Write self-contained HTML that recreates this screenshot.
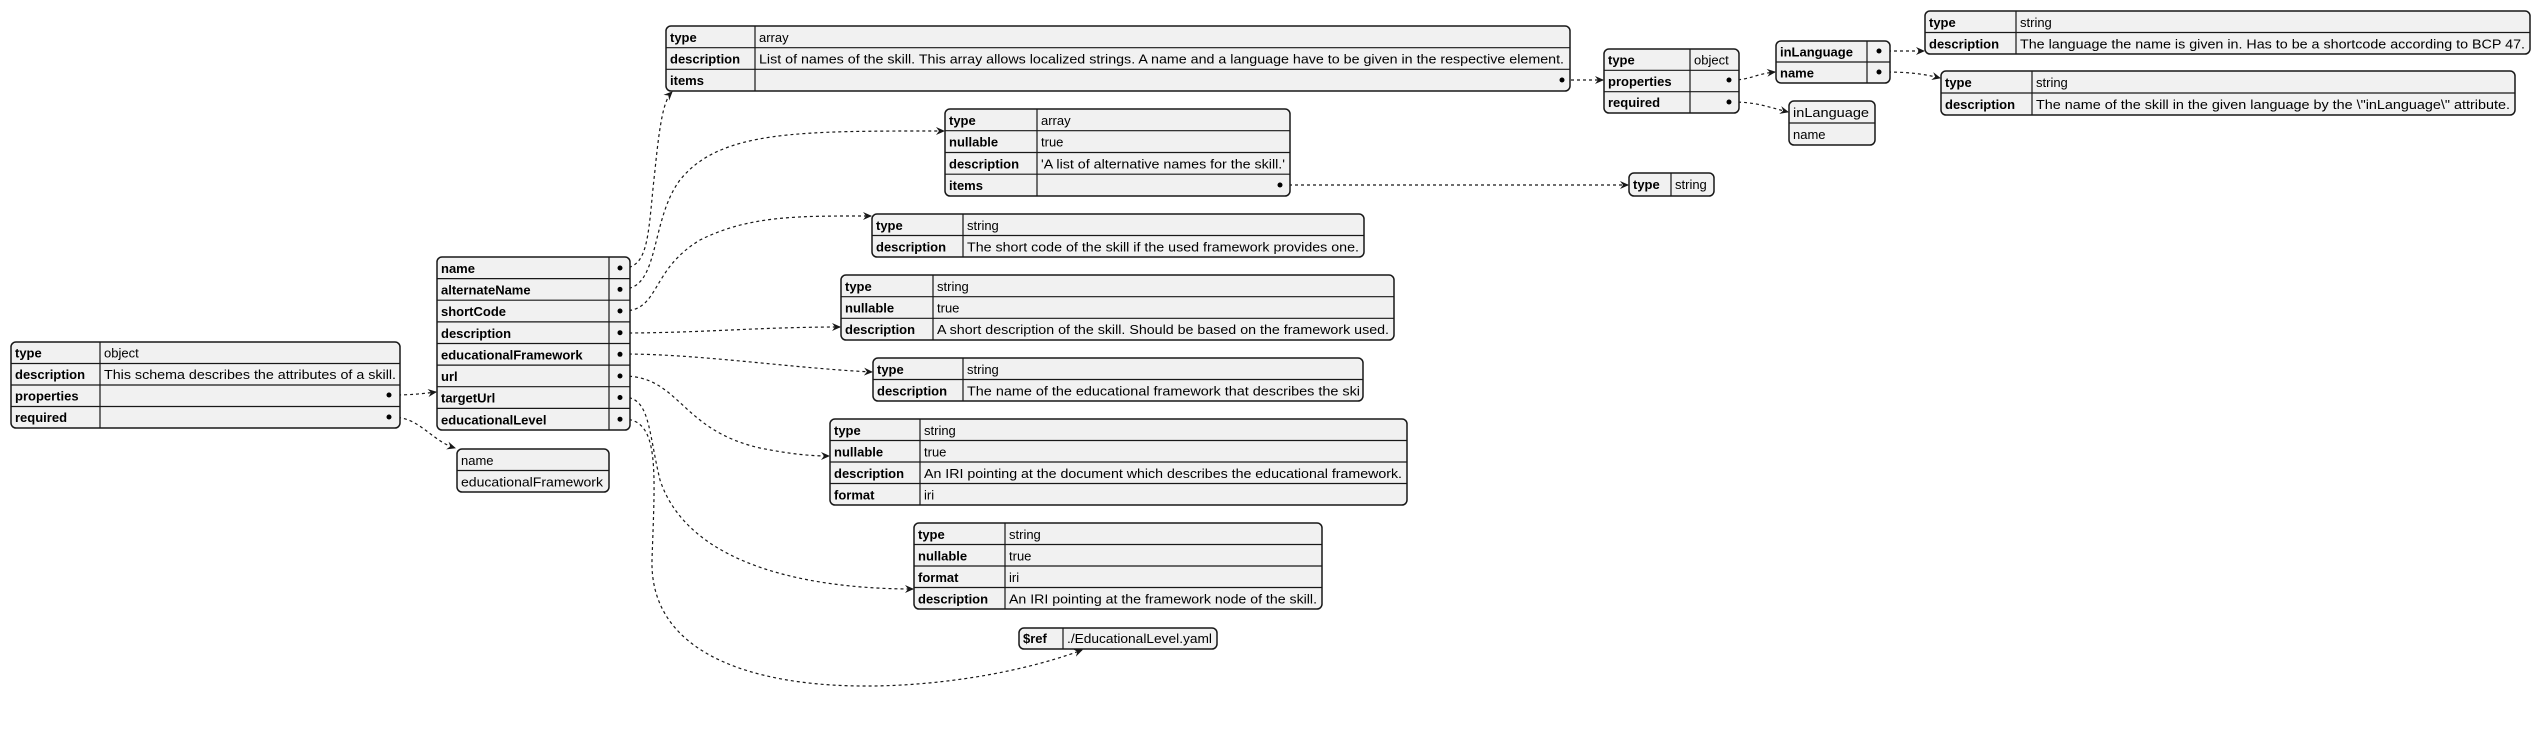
<!DOCTYPE html>
<html><head><meta charset="utf-8"><style>
html,body{margin:0;padding:0;background:#fff;}
svg{display:block;}
text{font-family:"Liberation Sans",sans-serif;font-size:13px;fill:#000;}
.k{font-weight:bold;}
.t rect{fill:#f1f1f1;stroke:#181818;stroke-width:1.5;}
.t line{stroke:#181818;stroke-width:1.2;}
.c{fill:none;stroke:#181818;stroke-width:1.2;stroke-dasharray:3,3;}
</style></head><body>
<svg width="2541" height="731" viewBox="0 0 2541 731" xmlns="http://www.w3.org/2000/svg">
<defs>
<marker id="a" markerWidth="10" markerHeight="10" refX="8" refY="5" orient="auto" markerUnits="userSpaceOnUse">
<path d="M0,1 L9,5 L0,9 L3,5 Z" fill="#181818"/></marker>
</defs>

<g>
<path class="c" marker-end="url(#a)" d="M392,395 C410,395 420,394 436,392"/>
<path class="c" marker-end="url(#a)" d="M392,417 C420,417 430,440 455,448"/>
<path class="c" marker-end="url(#a)" d="M623,268 C650,268 648,230 655,170 C660,120 664,100 672,92"/>
<path class="c" marker-end="url(#a)" d="M623,289 C660,289 650,220 680,180 C720,130 800,131 944,131"/>
<path class="c" marker-end="url(#a)" d="M623,311 C660,311 650,270 700,240 C750,215 800,216 871,216"/>
<path class="c" marker-end="url(#a)" d="M623,333 C700,333 760,327 840,327"/>
<path class="c" marker-end="url(#a)" d="M623,354 C700,354 790,368 872,372"/>
<path class="c" marker-end="url(#a)" d="M623,376 C680,376 680,430 760,448 C790,454 810,456 829,456"/>
<path class="c" marker-end="url(#a)" d="M623,397 C650,397 648,430 660,480 C690,570 820,589 913,589"/>
<path class="c" marker-end="url(#a)" d="M623,419 C660,419 655,470 652,560 C648,720 950,700 1082,650"/>
<path class="c" marker-end="url(#a)" d="M1565,80 L1603,80"/>
<path class="c" marker-end="url(#a)" d="M1732,80 C1750,80 1755,74 1775,72"/>
<path class="c" marker-end="url(#a)" d="M1732,102 C1755,102 1765,106 1788,112"/>
<path class="c" marker-end="url(#a)" d="M1882,51 L1924,51"/>
<path class="c" marker-end="url(#a)" d="M1882,72 C1905,72 1920,73 1940,78"/>
<path class="c" marker-end="url(#a)" d="M1283,185 L1628,185"/>
</g>

<g class="t">
<rect x="11" y="342" width="389" height="86" rx="5"/>
<line x1="11" y1="363.5" x2="400" y2="363.5"/><line x1="11" y1="385" x2="400" y2="385"/><line x1="11" y1="406.5" x2="400" y2="406.5"/>
<line x1="100" y1="342" x2="100" y2="428"/>
<text class="k" x="15" y="357.5">type</text><text x="104" y="357.5">object</text>
<text class="k" x="15" y="379">description</text><text x="104" y="379" textLength="292" lengthAdjust="spacingAndGlyphs">This schema describes the attributes of a skill.</text>
<text class="k" x="15" y="400.5">properties</text><circle cx="389" cy="395" r="2.5"/>
<text class="k" x="15" y="422">required</text><circle cx="389" cy="417" r="2.5"/>
</g>

<g class="t">
<rect x="437" y="257" width="193" height="173" rx="5"/>
<line x1="437" y1="278.6" x2="630" y2="278.6"/><line x1="437" y1="300.2" x2="630" y2="300.2"/><line x1="437" y1="321.9" x2="630" y2="321.9"/><line x1="437" y1="343.5" x2="630" y2="343.5"/><line x1="437" y1="365.1" x2="630" y2="365.1"/><line x1="437" y1="386.7" x2="630" y2="386.7"/><line x1="437" y1="408.4" x2="630" y2="408.4"/>
<line x1="609" y1="257" x2="609" y2="430"/>
<text class="k" x="441" y="273">name</text>
<text class="k" x="441" y="294.6">alternateName</text>
<text class="k" x="441" y="316.2">shortCode</text>
<text class="k" x="441" y="337.9">description</text>
<text class="k" x="441" y="359.5">educationalFramework</text>
<text class="k" x="441" y="381.1">url</text>
<text class="k" x="441" y="402.7">targetUrl</text>
<text class="k" x="441" y="424.4">educationalLevel</text>
<circle cx="620" cy="268" r="2.5"/><circle cx="620" cy="289.4" r="2.5"/><circle cx="620" cy="311" r="2.5"/><circle cx="620" cy="332.7" r="2.5"/><circle cx="620" cy="354.3" r="2.5"/><circle cx="620" cy="376" r="2.5"/><circle cx="620" cy="397.5" r="2.5"/><circle cx="620" cy="419.2" r="2.5"/>
</g>

<g class="t">
<rect x="457" y="449" width="152" height="43" rx="5"/>
<line x1="457" y1="470.5" x2="609" y2="470.5"/>
<text x="461" y="465">name</text>
<text x="461" y="486.5" textLength="142" lengthAdjust="spacingAndGlyphs">educationalFramework</text>
</g>

<g class="t">
<rect x="666" y="26" width="904" height="65" rx="5"/>
<line x1="666" y1="47.7" x2="1570" y2="47.7"/><line x1="666" y1="69.3" x2="1570" y2="69.3"/>
<line x1="755" y1="26" x2="755" y2="91"/>
<text class="k" x="670" y="42">type</text><text x="759" y="42">array</text>
<text class="k" x="670" y="63.5">description</text><text x="759" y="63.5" textLength="805" lengthAdjust="spacingAndGlyphs">List of names of the skill. This array allows localized strings. A name and a language have to be given in the respective element.</text>
<text class="k" x="670" y="85">items</text><circle cx="1562" cy="80" r="2.5"/>
</g>

<g class="t">
<rect x="1604" y="49" width="135" height="64" rx="5"/>
<line x1="1604" y1="70.3" x2="1739" y2="70.3"/><line x1="1604" y1="91.7" x2="1739" y2="91.7"/>
<line x1="1690" y1="49" x2="1690" y2="113"/>
<text class="k" x="1608" y="64.5">type</text><text x="1694" y="64.5">object</text>
<text class="k" x="1608" y="86">properties</text><circle cx="1729" cy="80" r="2.5"/>
<text class="k" x="1608" y="107">required</text><circle cx="1729" cy="102" r="2.5"/>
</g>

<g class="t">
<rect x="1776" y="41" width="114" height="42" rx="5"/>
<line x1="1776" y1="62" x2="1890" y2="62"/>
<line x1="1867" y1="41" x2="1867" y2="83"/>
<text class="k" x="1780" y="56.5">inLanguage</text><circle cx="1879" cy="51" r="2.5"/>
<text class="k" x="1780" y="77.5">name</text><circle cx="1879" cy="72" r="2.5"/>
</g>

<g class="t">
<rect x="1789" y="101" width="86" height="44" rx="5"/>
<line x1="1789" y1="123" x2="1875" y2="123"/>
<text x="1793" y="117" textLength="76" lengthAdjust="spacingAndGlyphs">inLanguage</text>
<text x="1793" y="139">name</text>
</g>

<g class="t">
<rect x="1925" y="11" width="605" height="43" rx="5"/>
<line x1="1925" y1="32.5" x2="2530" y2="32.5"/>
<line x1="2016" y1="11" x2="2016" y2="54"/>
<text class="k" x="1929" y="27">type</text><text x="2020" y="27">string</text>
<text class="k" x="1929" y="48.5">description</text><text x="2020" y="48.5" textLength="505" lengthAdjust="spacingAndGlyphs">The language the name is given in. Has to be a shortcode according to BCP 47.</text>
</g>

<g class="t">
<rect x="1941" y="71" width="574" height="44" rx="5"/>
<line x1="1941" y1="93" x2="2515" y2="93"/>
<line x1="2032" y1="71" x2="2032" y2="115"/>
<text class="k" x="1945" y="87">type</text><text x="2036" y="87">string</text>
<text class="k" x="1945" y="109">description</text><text x="2036" y="109" textLength="474" lengthAdjust="spacingAndGlyphs">The name of the skill in the given language by the \"inLanguage\" attribute.</text>
</g>

<g class="t">
<rect x="945" y="109" width="345" height="87" rx="5"/>
<line x1="945" y1="130.7" x2="1290" y2="130.7"/><line x1="945" y1="152.5" x2="1290" y2="152.5"/><line x1="945" y1="174.2" x2="1290" y2="174.2"/>
<line x1="1037" y1="109" x2="1037" y2="196"/>
<text class="k" x="949" y="125">type</text><text x="1041" y="125">array</text>
<text class="k" x="949" y="146.6">nullable</text><text x="1041" y="146.6">true</text>
<text class="k" x="949" y="168.3">description</text><text x="1041" y="168.3" textLength="244" lengthAdjust="spacingAndGlyphs">'A list of alternative names for the skill.'</text>
<text class="k" x="949" y="190">items</text><circle cx="1280" cy="185" r="2.5"/>
</g>

<g class="t">
<rect x="1629" y="173" width="85" height="23" rx="5"/>
<line x1="1671" y1="173" x2="1671" y2="196"/>
<text class="k" x="1633" y="189">type</text><text x="1675" y="189">string</text>
</g>

<g class="t">
<rect x="872" y="214" width="492" height="43" rx="5"/>
<line x1="872" y1="235.5" x2="1364" y2="235.5"/>
<line x1="963" y1="214" x2="963" y2="257"/>
<text class="k" x="876" y="230">type</text><text x="967" y="230">string</text>
<text class="k" x="876" y="251.5">description</text><text x="967" y="251.5" textLength="392" lengthAdjust="spacingAndGlyphs">The short code of the skill if the used framework provides one.</text>
</g>

<g class="t">
<rect x="841" y="275" width="553" height="65" rx="5"/>
<line x1="841" y1="296.7" x2="1394" y2="296.7"/><line x1="841" y1="318.3" x2="1394" y2="318.3"/>
<line x1="933" y1="275" x2="933" y2="340"/>
<text class="k" x="845" y="291">type</text><text x="937" y="291">string</text>
<text class="k" x="845" y="312.5">nullable</text><text x="937" y="312.5">true</text>
<text class="k" x="845" y="334">description</text><text x="937" y="334" textLength="452" lengthAdjust="spacingAndGlyphs">A short description of the skill. Should be based on the framework used.</text>
</g>

<g class="t">
<rect x="873" y="358" width="490" height="43" rx="5"/>
<line x1="873" y1="379.5" x2="1363" y2="379.5"/>
<line x1="963" y1="358" x2="963" y2="401"/>
<text class="k" x="877" y="374">type</text><text x="967" y="374">string</text>
<text class="k" x="877" y="395.5">description</text><text x="967" y="395.5" textLength="393" lengthAdjust="spacingAndGlyphs">The name of the educational framework that describes the ski</text>
</g>

<g class="t">
<rect x="830" y="419" width="577" height="86" rx="5"/>
<line x1="830" y1="440.5" x2="1407" y2="440.5"/><line x1="830" y1="462" x2="1407" y2="462"/><line x1="830" y1="483.5" x2="1407" y2="483.5"/>
<line x1="920" y1="419" x2="920" y2="505"/>
<text class="k" x="834" y="435">type</text><text x="924" y="435">string</text>
<text class="k" x="834" y="456.5">nullable</text><text x="924" y="456.5">true</text>
<text class="k" x="834" y="478">description</text><text x="924" y="478" textLength="478" lengthAdjust="spacingAndGlyphs">An IRI pointing at the document which describes the educational framework.</text>
<text class="k" x="834" y="499.5">format</text><text x="924" y="499.5">iri</text>
</g>

<g class="t">
<rect x="914" y="523" width="408" height="86" rx="5"/>
<line x1="914" y1="544.5" x2="1322" y2="544.5"/><line x1="914" y1="566" x2="1322" y2="566"/><line x1="914" y1="587.5" x2="1322" y2="587.5"/>
<line x1="1005" y1="523" x2="1005" y2="609"/>
<text class="k" x="918" y="539">type</text><text x="1009" y="539">string</text>
<text class="k" x="918" y="560.5">nullable</text><text x="1009" y="560.5">true</text>
<text class="k" x="918" y="582">format</text><text x="1009" y="582">iri</text>
<text class="k" x="918" y="603.5">description</text><text x="1009" y="603.5" textLength="308" lengthAdjust="spacingAndGlyphs">An IRI pointing at the framework node of the skill.</text>
</g>

<g class="t">
<rect x="1019" y="628" width="198" height="21" rx="5"/>
<line x1="1063" y1="628" x2="1063" y2="649"/>
<text class="k" x="1023" y="643">$ref</text><text x="1067" y="643" textLength="145" lengthAdjust="spacingAndGlyphs">./EducationalLevel.yaml</text>
</g>
</svg>
</body></html>
